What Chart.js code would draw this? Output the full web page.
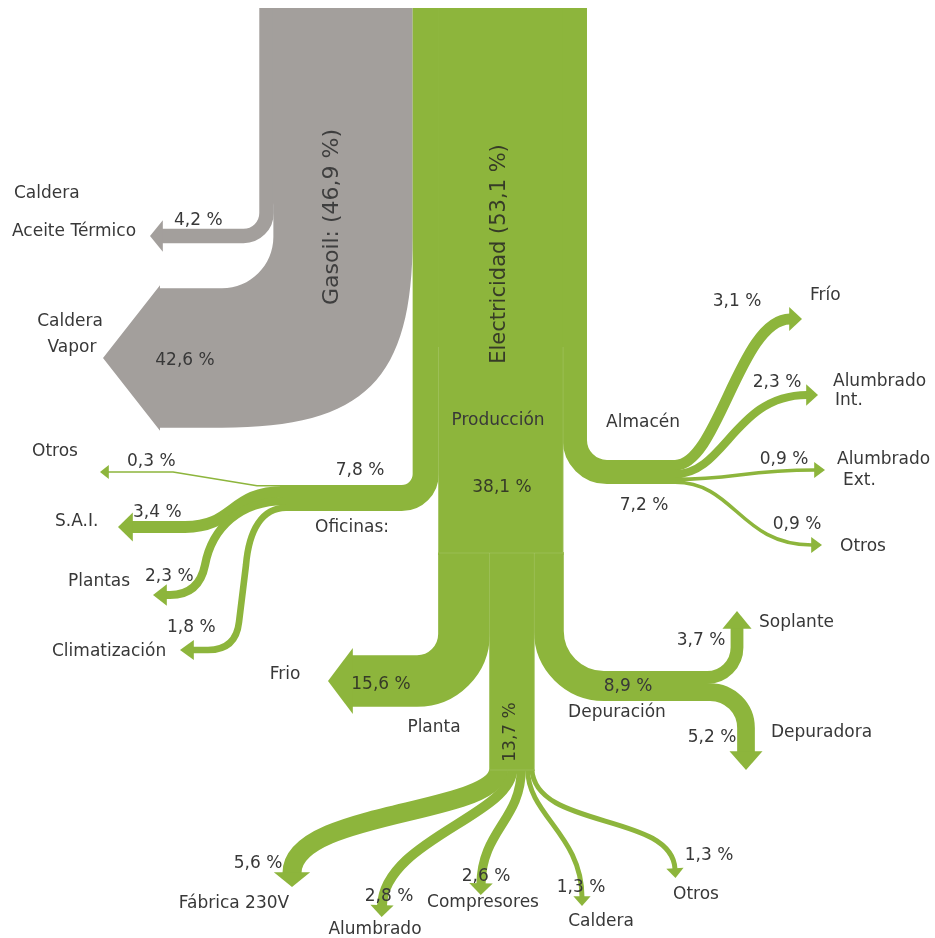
<!DOCTYPE html>
<html><head><meta charset="utf-8">
<script src="https://cdn.jsdelivr.net/npm/chart.js@4.4.1/dist/chart.umd.min.js"></script>
<style>html,body{margin:0;padding:0;background:#fff;}canvas{display:block;}</style>
</head><body>
<canvas id="c" width="935" height="938"></canvas>
<script>
// ---------------- DATA (percent of total energy) ----------------
const sourceLabels = ['Gasoil', 'Electricidad'];
const sourceValues = [46.9, 53.1];
const gasoilLabels = ['Caldera\nAceite Térmico', 'Caldera\nVapor'];
const gasoilValues = [4.2, 42.6];
const electricLabels = ['Oficinas', 'Producción', 'Almacén'];
const electricValues = [7.8, 38.1, 7.2];
const oficinasLabels = ['Otros', 'S.A.I.', 'Plantas', 'Climatización'];
const oficinasValues = [0.3, 3.4, 2.3, 1.8];
const almacenLabels = ['Frío', 'Alumbrado\nInt.', 'Alumbrado\nExt.', 'Otros'];
const almacenValues = [3.1, 2.3, 0.9, 0.9];
const produccionLabels = ['Frio', 'Planta', 'Depuración'];
const produccionValues = [15.6, 13.7, 8.9];
const plantaLabels = ['Fábrica 230V', 'Alumbrado', 'Compresores', 'Caldera', 'Otros'];
const plantaValues = [5.6, 2.8, 2.6, 1.3, 1.3];
const depuracionLabels = ['Soplante', 'Depuradora'];
const depuracionValues = [3.7, 5.2];

// ---------------- STYLE ----------------
const GREEN = '#8db53c';
const GRAY = '#a39f9c';
const TEXT = '#383838';
const TEXT_ON_GREEN = '#363b27';
const FONT = '"DejaVu Sans", sans-serif';

// ---------------- LAYOUT (chart units) ----------------
const UNIT = 3.27;          // chart units per percentage point (band thickness)
const TOP = 8;              // top of both source bands
const JOIN = 413;           // boundary between Gasoil and Electricidad bands
const Y_OFIC = 498, X_OFIC_FAN = 282;
const Y_ALM = 472, X_ALM_FAN = 675;
const Y_PROD_END = 553, PROD_BLOCK_TOP = 347;
const Y_PLANTA_FAN = 770;
const Y_DEPU = 686, X_DEPU_FAN = 703;
const Y_VAPOR = 358, Y_VAPOR_BEND = 237, X_VAPOR_END = 222, X_VAPOR_HEAD = 160, X_VAPOR_TIP = 103;

const gasoilRoutes = [
  (x, w) => ({cmds: [['M', x, TOP], ['A', x, 236, 162, 236, 23]], arrow: {len: 12, flange: 9}}),
  // wide band drawn as a filled ribbon (inner & outer edges from its thickness)
  (x, w) => {
    const xi = x - w / 2, xo = x + w / 2, yt = Y_VAPOR - w / 2, yb = Y_VAPOR + w / 2;
    const ko = 0.75, ki = 0.55, fl = 3;
    return {fill: [
      ['M', xi - 1, TOP], ['L', xo, TOP], ['L', xo, Y_VAPOR_BEND],
      ['C', xo, Y_VAPOR_BEND + ko * (yb - Y_VAPOR_BEND), X_VAPOR_END + ko * (xo - X_VAPOR_END), yb, X_VAPOR_END, yb],
      ['L', X_VAPOR_HEAD, yb], ['L', X_VAPOR_HEAD, yb + fl], ['L', X_VAPOR_TIP, Y_VAPOR],
      ['L', X_VAPOR_HEAD, yt - fl], ['L', X_VAPOR_HEAD, yt], ['L', X_VAPOR_END, yt],
      ['C', X_VAPOR_END + ki * (xi - X_VAPOR_END), yt, xi, Y_VAPOR_BEND + ki * (yt - Y_VAPOR_BEND), xi, Y_VAPOR_BEND],
      ['L', xi, 205], ['L', xi - 1, 200],
      ['Z']
    ]};
  }
];
const electricRoutes = [
  x => ({cmds: [['M', x, TOP], ['A', x, Y_OFIC, X_OFIC_FAN - 2, Y_OFIC, 24]]}),
  x => ({cmds: [['M', x, TOP], ['L', x, Y_PROD_END + 2]]}),
  x => ({cmds: [['M', x, TOP], ['A', x, Y_ALM, X_ALM_FAN + 2, Y_ALM, 32]]})
];
const oficinasRoutes = [
  y => ({cmds: [['M', X_OFIC_FAN + 2, y], ['L', 257, y], ['L', 173, 472], ['L', 108, 472]], arrow: {len: 8, flange: 6.5}}),
  y => ({cmds: [['M', X_OFIC_FAN + 2, y], ['C', 230, y, 235, 527, 185, 527], ['L', 132, 527]], arrow: {len: 14, flange: 9}}),
  y => ({cmds: [['M', X_OFIC_FAN + 2, y], ['C', 240, y, 212, 528, 205, 565], ['Q', 199, 595, 170, 595], ['L', 166, 595]], arrow: {len: 13, flange: 7}}),
  y => ({cmds: [['M', X_OFIC_FAN + 4, y], ['C', 262, y, 249, 530, 246, 565], ['L', 239, 622], ['Q', 236, 650, 208, 650], ['L', 193, 650]], arrow: {len: 13, flange: 7}})
];
const almacenRoutes = [
  y => ({cmds: [['M', X_ALM_FAN, y], ['C', 718, y, 740, 319, 790, 319]], arrow: {len: 12, flange: 7}}),
  y => ({cmds: [['M', X_ALM_FAN, y], ['C', 725, y, 735, 395, 807, 395]], arrow: {len: 11, flange: 7}}),
  y => ({cmds: [['M', X_ALM_FAN, y], ['C', 735, y, 745, 470, 815, 470]], arrow: {len: 10, flange: 6.5}}),
  y => ({cmds: [['M', X_ALM_FAN, y], ['C', 735, y, 740, 545, 812, 545]], arrow: {len: 10, flange: 6.5}})
];
const produccionRoutes = [
  x => ({cmds: [['M', x, Y_PROD_END - 1], ['A', x, 681, 352, 681, 47]], arrow: {len: 24, flange: 7.5}}),
  x => ({cmds: [['M', x, Y_PROD_END - 1], ['L', x, Y_PLANTA_FAN + 1]]}),
  x => ({cmds: [['M', x, Y_PROD_END - 1], ['A', x, Y_DEPU, X_DEPU_FAN + 2, Y_DEPU, 55]]})
];
const plantaRoutes = [
  x => ({cmds: [['M', x, Y_PLANTA_FAN - 1], ['C', x, 815, 292, 810, 292, 873]], arrow: {len: 14, flange: 9}}),
  x => ({cmds: [['M', x, Y_PLANTA_FAN - 1], ['C', x, 815, 384, 840, 382, 906]], arrow: {len: 11, flange: 7}}),
  x => ({cmds: [['M', x, Y_PLANTA_FAN - 1], ['C', x, 820, 482, 830, 481, 884]], arrow: {len: 11, flange: 7.5}}),
  x => ({cmds: [['M', x, Y_PLANTA_FAN - 1], ['C', x, 815, 582, 835, 582, 897]], arrow: {len: 9, flange: 6.5}}),
  x => ({cmds: [['M', x, Y_PLANTA_FAN - 1], ['C', x + 3, 830, 672, 812, 675, 869]], arrow: {len: 9, flange: 6.5}})
];
const depuracionRoutes = [
  y => ({cmds: [['M', X_DEPU_FAN - 2, y], ['A', 737, y, 737, 628, 30]], arrow: {len: 17, flange: 8.5}}),
  y => ({cmds: [['M', X_DEPU_FAN - 2, y], ['A', 746, y, 746, 752, 36]], arrow: {len: 18, flange: 8}})
];

// label anchors: name lines [[x,y],...], value [x,y]
const srcLabelPos = [
  {x: 332, y: 217, size: 22, color: '#3e3e3e', fmt: (n, v) => `${n}: (${fmtPct(v)})`},
  {x: 500, y: 254, size: 21, color: TEXT_ON_GREEN, fmt: (n, v) => `${n} (${fmtPct(v)})`}
];
const gasoilLabelPos = [
  {name: [[14, 194], [12, 232]], nameAlign: 'left', value: [174, 221], valueAlign: 'left'},
  {name: [[70, 322], [72, 348]], nameAlign: 'center', value: [185, 361], valueAlign: 'center'}
];
const electricLabelPos = [
  {name: [[352, 528]], suffix: ':', value: [360, 471]},
  {name: [[498, 421]], value: [502, 488], onGreen: true},
  {name: [[643, 423]], value: [644, 506]}
];
const oficinasLabelPos = [
  {name: [[32, 452]], value: [127, 462]},
  {name: [[55, 522]], value: [133, 513]},
  {name: [[68, 582]], value: [145, 577]},
  {name: [[52, 652]], value: [167, 628]}
];
const almacenLabelPos = [
  {name: [[810, 296]], value: [737, 302]},
  {name: [[833, 382], [835, 401]], value: [777, 383]},
  {name: [[837, 460], [843, 481]], value: [784, 460]},
  {name: [[840, 547]], value: [797, 525]}
];
const produccionLabelPos = [
  {name: [[285, 675]], value: [381, 685], valueOnGreen: true},
  {name: [[434, 728]], value: [511, 732], valueRot: true, valueOnGreen: true},
  {name: [[617, 713]], value: [628, 687]}
];
const plantaLabelPos = [
  {name: [[234, 904]], value: [258, 864]},
  {name: [[375, 930]], value: [389, 897]},
  {name: [[483, 903]], value: [486, 877]},
  {name: [[601, 922]], value: [581, 888]},
  {name: [[696, 895]], value: [709, 856]}
];
const depuracionLabelPos = [
  {name: [[759, 623]], nameAlign: 'left', value: [701, 641]},
  {name: [[771, 733]], nameAlign: 'left', value: [712, 738]}
];

function fmtPct(v) { return v.toFixed(1).replace('.', ',') + ' %'; }

// ---------------- DRAWING PLUGIN ----------------
const sankeyPlugin = {
  id: 'sankeyFlows',
  afterDatasetsDraw(chart) {
    const ctx = chart.ctx;
    const sx = chart.scales.x, sy = chart.scales.y;
    const X = v => sx.getPixelForValue(v);
    const Y = v => sy.getPixelForValue(v);
    const R = r => Math.abs(sx.getPixelForValue(r) - sx.getPixelForValue(0));
    const thick = pct => pct * UNIT;                       // chart units
    const thickPx = pct => Math.abs(sy.getPixelForValue(pct * UNIT) - sy.getPixelForValue(0));
    const stack = (start, values) => {                      // centers of stacked bands
      let acc = start; return values.map(v => { const c = acc + thick(v) / 2; acc += thick(v); return c; });
    };

    function trace(cmds) {
      let prev = null, last = null;
      for (const c of cmds) {
        const t = c[0];
        if (t === 'M') { ctx.moveTo(X(c[1]), Y(c[2])); prev = last; last = [c[1], c[2]]; }
        else if (t === 'L') { ctx.lineTo(X(c[1]), Y(c[2])); prev = last; last = [c[1], c[2]]; }
        else if (t === 'A') { ctx.arcTo(X(c[1]), Y(c[2]), X(c[3]), Y(c[4]), R(c[5])); ctx.lineTo(X(c[3]), Y(c[4])); prev = [c[1], c[2]]; last = [c[3], c[4]]; }
        else if (t === 'C') { ctx.bezierCurveTo(X(c[1]), Y(c[2]), X(c[3]), Y(c[4]), X(c[5]), Y(c[6])); prev = [c[3], c[4]]; last = [c[5], c[6]]; }
        else if (t === 'Q') { ctx.quadraticCurveTo(X(c[1]), Y(c[2]), X(c[3]), Y(c[4])); prev = [c[1], c[2]]; last = [c[3], c[4]]; }
        else if (t === 'Z') { ctx.closePath(); }
      }
      return {prev, last};
    }

    function flow(routeFn, center, value, color) {
      const route = routeFn(center, thick(value));
      const w = thickPx(value);
      ctx.save();
      ctx.strokeStyle = color; ctx.fillStyle = color;
      if (route.fill) {
        ctx.beginPath(); trace(route.fill); ctx.fill(); ctx.restore(); return;
      }
      ctx.lineWidth = w + 0.7; ctx.lineCap = 'butt'; ctx.lineJoin = 'round';
      ctx.beginPath();
      const {prev, last} = trace(route.cmds);
      ctx.stroke();
      if (route.arrow) {
        const bx = X(last[0]), by = Y(last[1]);
        let dx = bx - X(prev[0]), dy = by - Y(prev[1]);
        const d = Math.hypot(dx, dy); dx /= d; dy /= d;
        const nx = -dy, ny = dx;
        const half = w / 2 + R(route.arrow.flange);
        const len = R(route.arrow.len);
        const b0x = bx - dx * 0.8, b0y = by - dy * 0.8;
        ctx.beginPath();
        ctx.moveTo(b0x + nx * half, b0y + ny * half);
        ctx.lineTo(bx + dx * len, by + dy * len);
        ctx.lineTo(b0x - nx * half, b0y - ny * half);
        ctx.closePath();
        ctx.fill();
      }
      ctx.restore();
    }

    function text(str, x, y, opts) {
      ctx.save();
      ctx.font = `${opts.size || 17}px ${FONT}`;
      ctx.fillStyle = opts.color || TEXT;
      ctx.textBaseline = 'middle';
      ctx.textAlign = opts.align || 'center';
      ctx.translate(X(x), Y(y));
      if (opts.rot) ctx.rotate(-Math.PI / 2);
      ctx.fillText(str, 0, 0);
      ctx.restore();
    }
    function labels(names, values, pos, defAlign) {
      names.forEach((n, i) => {
        const p = pos[i];
        const lines = (n + (p.suffix || '')).split('\n');
        lines.forEach((ln, j) => text(ln, p.name[j][0], p.name[j][1], {align: p.nameAlign || defAlign}));
        text(fmtPct(values[i]), p.value[0], p.value[1], {
          align: p.valueAlign || (defAlign === 'left' && !p.nameAlign ? 'left' : 'center'),
          rot: p.valueRot, color: (p.valueOnGreen || p.onGreen) ? TEXT_ON_GREEN : TEXT
        });
      });
    }

    // ---- geometry from data ----
    const gasLeft = JOIN - thick(sourceValues[0]);
    const gasC = stack(gasLeft, gasoilValues);
    const elecC = stack(JOIN, electricValues);
    const prodLeft = JOIN + thick(electricValues[0]);
    const prodRight = prodLeft + thick(electricValues[1]);
    const prodC = stack(prodLeft, produccionValues);
    const plantaLeft = prodLeft + thick(produccionValues[0]);
    const plantaRight = plantaLeft + thick(produccionValues[1]);
    const plantaC = stack(plantaLeft, plantaValues);
    const oficC = stack(Y_OFIC - thick(electricValues[0]) / 2, oficinasValues);
    const almC = stack(Y_ALM - thick(electricValues[2]) / 2, almacenValues);
    const depC = stack(Y_DEPU - thick(produccionValues[2]) / 2, depuracionValues);

    gasoilValues.forEach((v, i) => flow(gasoilRoutes[i], gasC[i], v, GRAY));
    electricValues.forEach((v, i) => flow(electricRoutes[i], elecC[i], v, GREEN));
    oficinasValues.forEach((v, i) => flow(oficinasRoutes[i], oficC[i], v, GREEN));
    almacenValues.forEach((v, i) => flow(almacenRoutes[i], almC[i], v, GREEN));
    produccionValues.forEach((v, i) => flow(produccionRoutes[i], prodC[i], v, GREEN));
    plantaValues.forEach((v, i) => flow(plantaRoutes[i], plantaC[i], v, GREEN));
    depuracionValues.forEach((v, i) => flow(depuracionRoutes[i], depC[i], v, GREEN));

    // faint seams where a band is split
    ctx.save();
    ctx.strokeStyle = 'rgba(255,255,255,0.12)'; ctx.lineWidth = 1;
    const seam = (x1, y1, x2, y2) => { ctx.beginPath(); ctx.moveTo(X(x1), Y(y1)); ctx.lineTo(X(x2), Y(y2)); ctx.stroke(); };
    seam(prodLeft, PROD_BLOCK_TOP, prodLeft, Y_PROD_END);
    seam(prodRight, PROD_BLOCK_TOP, prodRight, Y_PROD_END);
    seam(prodLeft, Y_PROD_END, prodRight, Y_PROD_END);
    seam(plantaLeft, Y_PROD_END, plantaLeft, Y_PLANTA_FAN);
    seam(plantaRight, Y_PROD_END, plantaRight, Y_PLANTA_FAN);
    seam(plantaLeft, Y_PLANTA_FAN, plantaRight, Y_PLANTA_FAN);
    ctx.restore();

    // ---- text ----
    sourceLabels.forEach((n, i) => {
      const p = srcLabelPos[i];
      text(p.fmt(n, sourceValues[i]), p.x, p.y, {rot: true, size: p.size, color: p.color});
    });
    labels(gasoilLabels, gasoilValues, gasoilLabelPos, 'left');
    labels(electricLabels, electricValues, electricLabelPos, 'center');
    labels(oficinasLabels, oficinasValues, oficinasLabelPos, 'left');
    labels(almacenLabels, almacenValues, almacenLabelPos.map(p => Object.assign({nameAlign: 'left', valueAlign: 'center'}, p)), 'left');
    labels(produccionLabels, produccionValues, produccionLabelPos, 'center');
    labels(plantaLabels, plantaValues, plantaLabelPos, 'center');
    labels(depuracionLabels, depuracionValues, depuracionLabelPos, 'center');
  }
};

new Chart(document.getElementById('c'), {
  type: 'scatter',
  data: { datasets: [] },
  options: {
    responsive: false,
    animation: false,
    devicePixelRatio: 1,
    layout: { padding: 0 },
    scales: {
      x: { type: 'linear', min: 0, max: 935, display: false },
      y: { type: 'linear', min: 0, max: 938, reverse: true, display: false }
    },
    plugins: { legend: { display: false }, tooltip: { enabled: false } }
  },
  plugins: [sankeyPlugin]
});
</script>
</body></html>
